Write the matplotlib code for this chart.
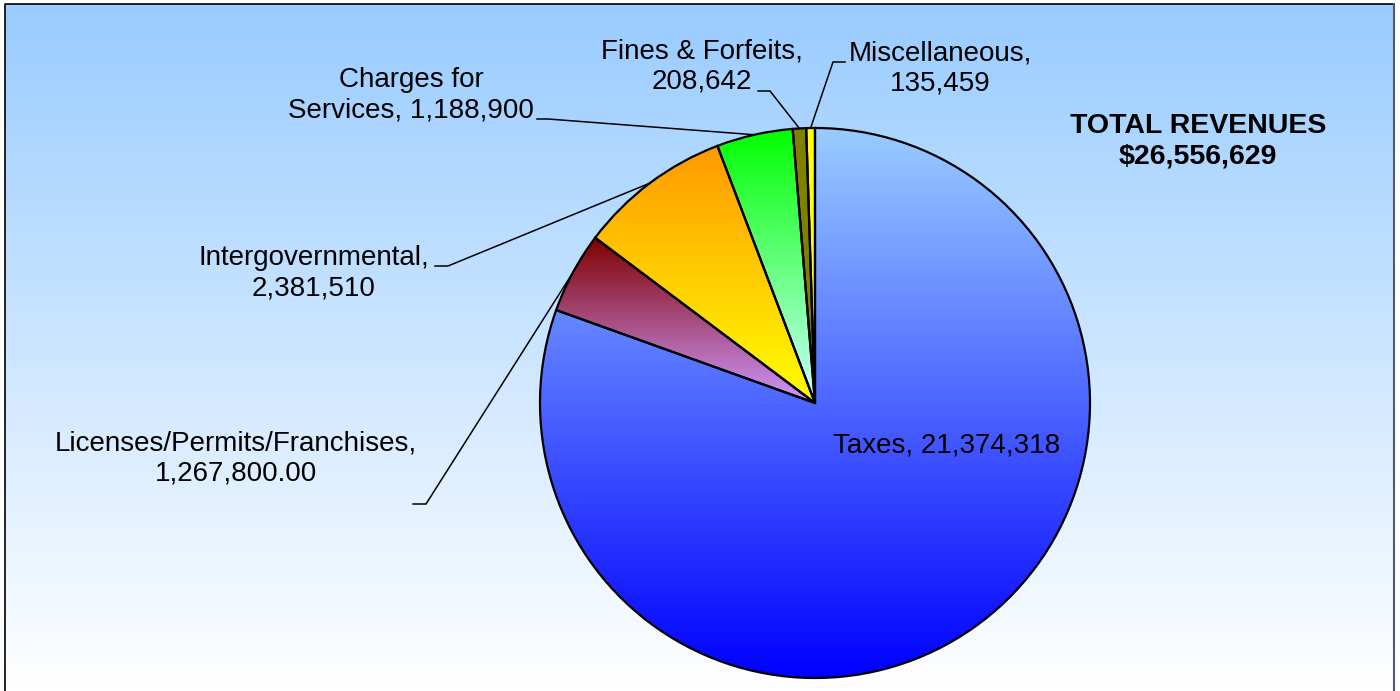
import numpy as np
import matplotlib
matplotlib.use('Agg')  # no display available
import matplotlib.pyplot as plt
from matplotlib.colors import to_rgb

plt.rcParams['font.family'] = ['Liberation Sans', 'DejaVu Sans']

# Revenue sources (drawn clockwise from 12 o'clock)
categories = ['Taxes', 'Licenses/Permits/Franchises', 'Intergovernmental',
              'Charges for Services', 'Fines & Forfeits', 'Miscellaneous']
amounts = [21374318, 1267800.00, 2381510, 1188900, 208642, 135459]
label_fmt = ['Taxes, {}', 'Licenses/Permits/Franchises,\n{}', 'Intergovernmental,\n{}',
             'Charges for\nServices, {}', 'Fines & Forfeits,\n{}', 'Miscellaneous,\n{}']
value_fmt = ['{:,.0f}', '{:,.2f}', '{:,.0f}', '{:,.0f}', '{:,.0f}', '{:,.0f}']

# slice fills: vertical gradient top -> bottom
top_colors = ['#99CCFF', '#800000', '#FF9900', '#00FF00', '#808000', '#FFFF00']
bottom_colors = ['#0000FF', '#CC99FF', '#FFFF00', '#CCFFFF', '#808000', '#FFFF33']

W, H = 1400, 691
cx, cy, R = 815, 403, 275  # pie center / radius in pixels (y from top)

# label placement (pixel coords, y from top); None = no leader line
label_pos = [(947, 445), (236, 459), (314, 273), (411, 95), (702, 66), (940, 68)]
leader_stub = [None,
               ((413, 504), (426, 504)),
               ((435, 266), (448, 266)),
               ((537, 119), (548, 119)),
               ((758, 91), (770, 91)),
               ((845, 62), (833, 62))]


def fy(y):
    return H - y


fig = plt.figure(figsize=(14, 6.91), dpi=100)
ax = fig.add_axes([0, 0, 1, 1])

# background: light blue fading to white
t = np.linspace(0, 1, 256)[:, None]
bg = (1 - t) * np.array(to_rgb('#99CCFF')) + t * np.array(to_rgb('#FFFFFF'))
ax.imshow(bg[:, None, :], extent=[5, 1394, 0, fy(4)], origin='upper',
          aspect='auto', interpolation='bilinear', zorder=0)

wedges, _ = ax.pie(amounts, startangle=90, counterclock=False,
                   center=(cx, fy(cy)), radius=R, frame=True,
                   wedgeprops=dict(edgecolor='black', linewidth=1.6,
                                   facecolor='none', zorder=2))

# gradient fill clipped to each wedge
for w, c0, c1 in zip(wedges, top_colors, bottom_colors):
    ext = w.get_path().get_extents()
    g = (1 - t) * np.array(to_rgb(c0)) + t * np.array(to_rgb(c1))
    img = ax.imshow(g[:, None, :], extent=[ext.x0, ext.x1, ext.y0, ext.y1],
                    origin='upper', aspect='auto', interpolation='bilinear',
                    zorder=1.5)
    img.set_clip_path(w)

# labels and leader lines
for w, fmt, vfmt, val, pos, stub in zip(wedges, label_fmt, value_fmt, amounts,
                                        label_pos, leader_stub):
    ax.text(pos[0], fy(pos[1]), fmt.format(vfmt.format(val)), fontsize=20,
            ha='center', va='center', multialignment='center', zorder=4)
    if stub is None:
        continue
    mid = np.deg2rad((w.theta1 + w.theta2) / 2)
    ex, ey = w.center[0] + R * np.cos(mid), w.center[1] + R * np.sin(mid)
    xs = [stub[0][0], stub[1][0], ex]
    ys = [fy(stub[0][1]), fy(stub[1][1]), ey]
    ax.plot(xs, ys, color='black', lw=1.1, zorder=3, solid_joinstyle='miter')

total = sum(amounts)
ax.text(1198, fy(141), f'TOTAL REVENUES\n${total:,.0f}', fontsize=20.5,
        fontweight='bold', ha='center', va='center', zorder=4)

# chart border
ax.plot([5, 5, 1394], [0, fy(4), fy(4)], color='black', lw=1.2, zorder=5)
ax.plot([1394, 1394], [0, fy(4)], color='#505a6e', lw=1.5, zorder=5)

ax.set_xlim(0, W)
ax.set_ylim(0, H)
ax.set_aspect('auto')
ax.axis('off')

fig.savefig('out.png', dpi=100)
plt.close(fig)
